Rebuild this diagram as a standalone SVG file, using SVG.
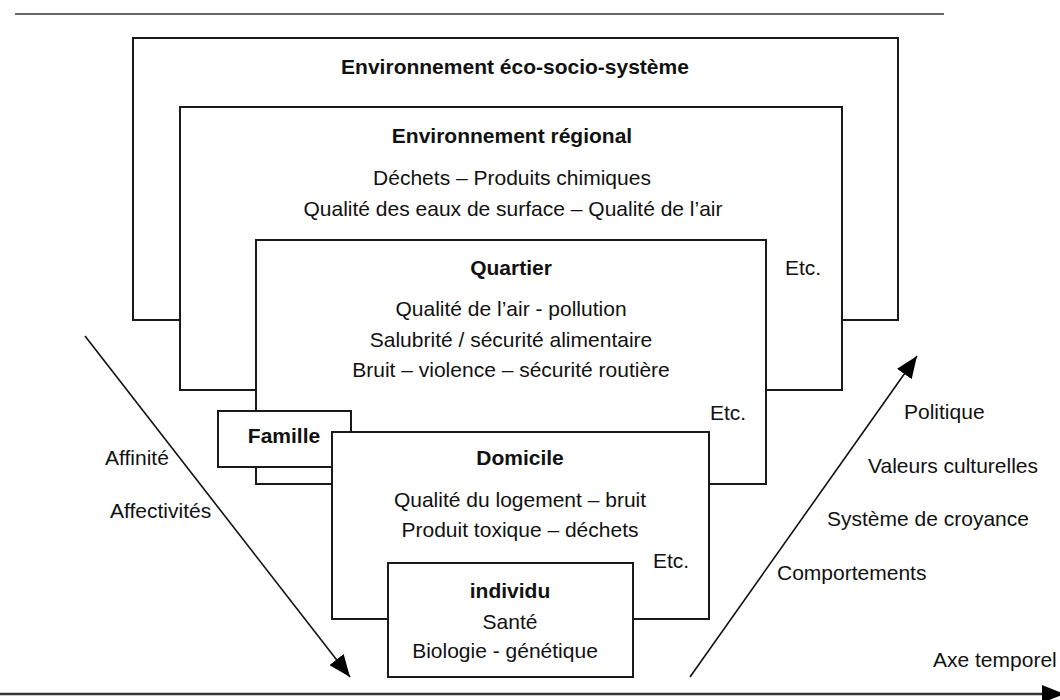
<svg xmlns="http://www.w3.org/2000/svg" width="1060" height="700" viewBox="0 0 1060 700">
<defs>
<style>
.box{fill:#fff;stroke:#1a1a1a;stroke-width:2}
.t{font-family:"Liberation Sans",Arial,sans-serif;font-size:21px;fill:#111}
.b{font-weight:bold}
.c{text-anchor:middle}
.arr{stroke:#111;stroke-width:1.6;fill:none}
.axis{stroke:#333;stroke-width:2.5;fill:none}
</style>
<marker id="head" markerUnits="userSpaceOnUse" markerWidth="24" markerHeight="18" refX="22" refY="9" orient="auto">
<path d="M0,0 L22,9 L0,18 z" fill="#000"/>
</marker>
</defs>
<rect width="1060" height="700" fill="#fff"/>
<line x1="15" y1="14" x2="944" y2="14" stroke="#666" stroke-width="2"/>
<g id="eco-socio-systeme">
<rect class="box" x="133" y="38" width="765" height="282"/>
<text class="t b c" x="515" y="74">Environnement éco-socio-système</text>
</g>
<g id="regional">
<rect class="box" x="180" y="107" width="662" height="283"/>
<text class="t b c" x="512" y="143">Environnement régional</text>
<text class="t c" x="512" y="185">Déchets – Produits chimiques</text>
<text class="t c" x="513" y="216">Qualité des eaux de surface – Qualité de l’air</text>
<text class="t" x="785" y="275">Etc.</text>
</g>
<g id="quartier">
<rect class="box" x="256" y="240" width="510" height="244"/>
<text class="t b c" x="511" y="275">Quartier</text>
<text class="t c" x="511" y="316">Qualité de l’air - pollution</text>
<text class="t c" x="511" y="347">Salubrité / sécurité alimentaire</text>
<text class="t c" x="511" y="377">Bruit – violence – sécurité routière</text>
<text class="t" x="710" y="420">Etc.</text>
</g>
<g id="famille">
<rect class="box" x="218" y="411" width="133" height="56"/>
<text class="t b c" x="284" y="443">Famille</text>
</g>
<g id="domicile">
<rect class="box" x="332" y="432" width="377" height="187"/>
<text class="t b c" x="520" y="465">Domicile</text>
<text class="t c" x="520" y="507">Qualité du logement – bruit</text>
<text class="t c" x="520" y="537">Produit toxique – déchets</text>
<text class="t" x="653" y="568">Etc.</text>
</g>
<g id="individu">
<rect class="box" x="388" y="563" width="245" height="114"/>
<text class="t b c" x="510" y="598">individu</text>
<text class="t c" x="510" y="629">Santé</text>
<text class="t c" x="505" y="658">Biologie - génétique</text>
</g>
<g id="connectors">
<line class="arr" x1="85" y1="336" x2="350" y2="677" marker-end="url(#head)"/>
<line class="arr" x1="690" y1="677" x2="917" y2="356" marker-end="url(#head)"/>
<line class="axis" x1="0" y1="694" x2="1064" y2="694" marker-end="url(#head)"/>
</g>
<g id="labels">
<text class="t" x="105" y="465">Affinité</text>
<text class="t" x="110" y="518">Affectivités</text>
<text class="t" x="904" y="419">Politique</text>
<text class="t" x="868" y="473">Valeurs culturelles</text>
<text class="t" x="827" y="526">Système de croyance</text>
<text class="t" x="777" y="580">Comportements</text>
<text class="t" x="933" y="667">Axe temporel</text>
</g>
</svg>
